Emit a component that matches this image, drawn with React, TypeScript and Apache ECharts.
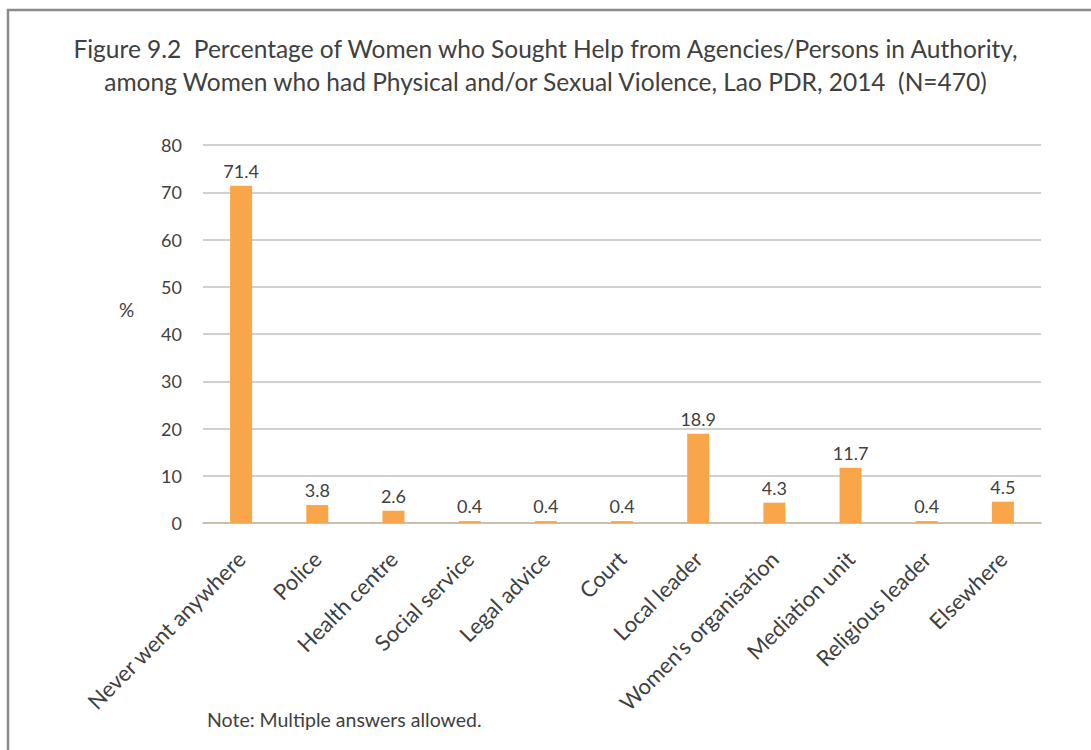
import React, { useEffect, useRef } from "react";
import * as echarts from "echarts";

const categories = [
  "Never went anywhere",
  "Police",
  "Health centre",
  "Social service",
  "Legal advice",
  "Court",
  "Local leader",
  "Women's organisation",
  "Mediation unit",
  "Religious leader",
  "Elsewhere",
];
const values = [71.4, 3.8, 2.6, 0.4, 0.4, 0.4, 18.9, 4.3, 11.7, 0.4, 4.5];
const titleLines = [
  "Figure 9.2  Percentage of Women who Sought Help from Agencies/Persons in Authority,",
  "among Women who had Physical and/or Sexual Violence, Lao PDR, 2014  (N=470)",
];
const yAxisName = "%";
const note = "Note: Multiple answers allowed.";

const FONT = "Lato, 'Open Sans', sans-serif";
const TEXT = "#404040";

export default function App() {
  const ref = useRef<HTMLDivElement>(null);
  useEffect(() => {
    document.body.style.margin = "0";
    const chart = echarts.init(ref.current!, null, { renderer: "svg" });
    chart.setOption({
      animation: false,
      backgroundColor: "#ffffff",
      textStyle: { fontFamily: FONT },
      title: {
        text: titleLines.join("\n"),
        left: "center",
        top: 27,
        textStyle: { fontFamily: FONT, fontSize: 24.5, fontWeight: "normal", color: TEXT, lineHeight: 33 },
      },
      grid: { left: 203, right: 50, top: 145, bottom: 227 },
      xAxis: {
        type: "category",
        data: categories,
        axisLine: { lineStyle: { color: "#c9b9a6", width: 1.5 } },
        axisTick: { show: false },
        axisLabel: { rotate: 45, fontSize: 22, color: TEXT, fontFamily: FONT, margin: 32, interval: 0 },
      },
      yAxis: {
        type: "value",
        min: 0,
        max: 80,
        interval: 10,
        axisLine: { show: false },
        axisTick: { show: false },
        splitLine: { lineStyle: { color: "#c0c0c0", width: 1.5 } },
        axisLabel: { fontSize: 18, color: TEXT, fontFamily: FONT, margin: 21 },
      },
      series: [
        {
          type: "bar",
          data: values,
          barWidth: 22,
          itemStyle: { color: "#f9a64a" },
          label: { show: true, position: "top", fontSize: 18, color: TEXT, fontFamily: FONT, distance: 6 },
        },
      ],
      graphic: [
        {
          type: "rect",
          shape: { x: 8, y: 10, width: 1200, height: 900 },
          style: { fill: "none", stroke: "#8a8a8a", lineWidth: 2.5 },
          silent: true,
        },
        {
          type: "text",
          left: 119,
          top: 300,
          style: { text: yAxisName, fontSize: 19, fill: TEXT, fontFamily: FONT },
        },
        {
          type: "text",
          left: 207,
          top: 709,
          style: { text: note, fontSize: 19.5, fill: TEXT, fontFamily: FONT },
        },
      ],
    });
    return () => chart.dispose();
  }, []);
  return <div ref={ref} style={{ width: 1091, height: 750 }} />;
}
